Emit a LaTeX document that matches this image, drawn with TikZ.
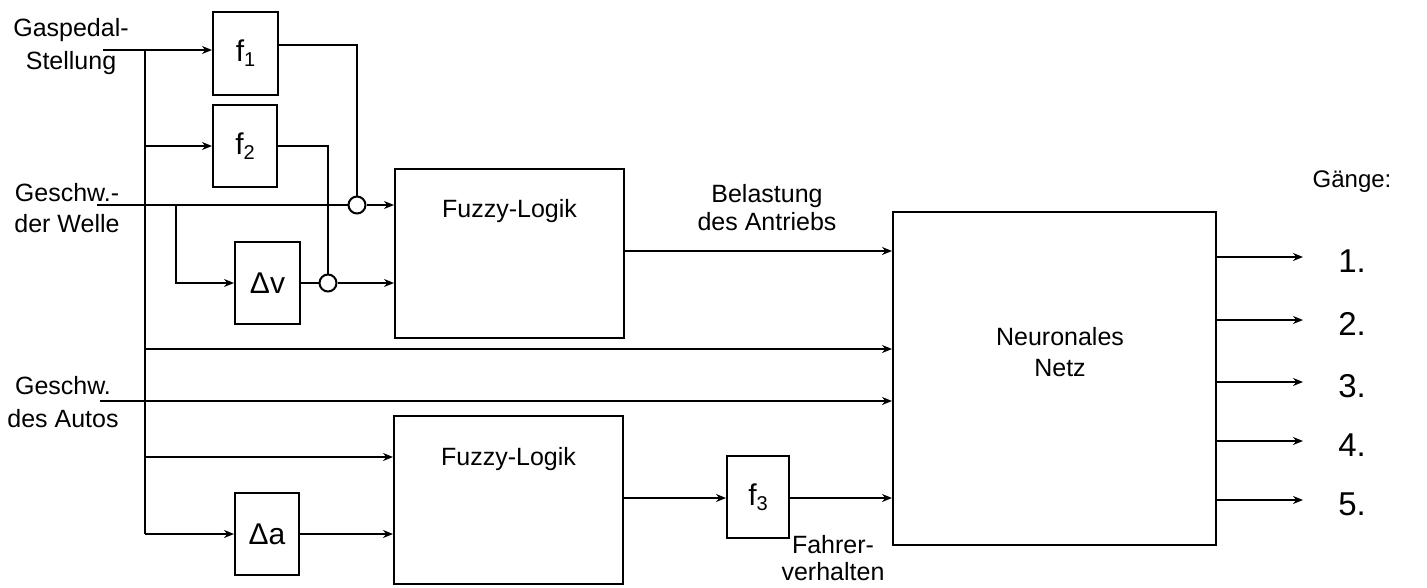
\documentclass[tikz,border=0pt]{standalone}
\usepackage{fontspec}
\setmainfont{Liberation Sans}
\usetikzlibrary{arrows.meta,calc}
\newcommand{\subidx}[1]{\raisebox{-5pt}{\fontsize{20}{20}\selectfont #1}}
\begin{document}
\begin{tikzpicture}[x=1pt,y=-1pt,
  line width=2pt,
  blk/.style={draw, inner sep=0pt, rectangle},
  lbl/.style={font=\fontsize{25}{31}\selectfont, align=center, inner sep=0pt},
  sym/.style={font=\fontsize{30}{30}\selectfont, inner sep=0pt},
  num/.style={font=\fontsize{33}{34}\selectfont, inner sep=0pt},
  arr/.style={-{Stealth[length=10pt,width=8pt]}},
  cross/.style={draw, circle, inner sep=0pt, minimum size=17pt}]
\useasboundingbox (0,0) rectangle (1427,587);
% boxes
\node[blk, minimum width=65pt, minimum height=83pt] (f1) at (245.5,53.5) {};
\node[sym] at (f1) {f\subidx{1}};
\node[blk, minimum width=64pt, minimum height=82pt] (f2) at (245,146) {};
\node[sym] at (f2) {f\subidx{2}};
\node[blk, minimum width=65pt, minimum height=82pt] (dv) at (267.5,283) {};
\node[sym] at (dv) {Δv};
\node[blk, minimum width=64pt, minimum height=82pt] (da) at (267,534) {};
\node[sym] at (da) {Δa};
\node[blk, minimum width=229pt, minimum height=169pt] (fz1) at (509.5,253.5) {};
\node[lbl] (fz1t) at ($(fz1.north)+(0,43)$) {Fuzzy-Logik};
\node[blk, minimum width=229pt, minimum height=168pt] (fz2) at (508.5,500) {};
\node[lbl] (fz2t) at ($(fz2.north)+(0,44)$) {Fuzzy-Logik};
\node[blk, minimum width=62pt, minimum height=82pt] (f3) at (758,497) {};
\node[sym] at (f3) {f\subidx{3}};
\node[blk, minimum width=323pt, minimum height=333pt] (nn) at (1054.5,378.5) {};
\node[lbl] (nnt) at (1060,352) {Neuronales\\Netz};
% crossing circles
\node[cross] (c1) at (357,205) {};
\node[cross] (c2) at (328,283) {};
% input labels
\node[lbl, font=\fontsize{25}{33}\selectfont] (gp) at (71,47) {Gaspedal-\\Stellung};
\node[lbl] (gw) at (67,208) {Geschw.-\\der Welle};
\node[lbl, font=\fontsize{25}{33}\selectfont] (ga) at (63,402) {Geschw.\\des Autos};
\node[lbl, font=\fontsize{25}{28}\selectfont] (bel) at (767,208) {Belastung\\des Antriebs};
\node[lbl, font=\fontsize{25}{27}\selectfont] (fv) at (833,558) {Fahrer-\\verhalten};
\node[font=\fontsize{24}{28}\selectfont, inner sep=0pt] (gg) at (1352,182) {Gänge:};
% coordinates
\coordinate (gin) at (103,50);
\coordinate (t1) at (145,50);
\coordinate (t2) at (145,534);
\coordinate (win) at (97,205);
\coordinate (ain) at (100,401);
\coordinate (br) at (176,205);
% connectors
\draw[arr] (gin) -- (gin -| f1.west);
\draw (t1) -- (t2);
\draw[arr] (t1 |- f2) -- (f2.west);
\draw (f1.east |- 0,45) -| (c1.north);
\draw (f2.east) -| (c2.north);
\draw (win) -- (c1.west);
\draw[arr] (c1.east) -- (c1 -| fz1.west);
\draw[arr] (br) |- (dv.west);
\draw (dv.east) -- (c2.west);
\draw[arr] (c2.east) -- (c2 -| fz1.west);
\draw[arr] (fz1.east |- 0,251) -- (nn.west |- 0,251);
\draw[arr] (t1 |- 0,349) -- (nn.west |- 0,349);
\draw[arr] (ain) -- (ain -| nn.west);
\draw[arr] (t1 |- 0,457) -- (fz2.west |- 0,457);
\draw[arr] (t2) -- (t2 -| da.west);
\draw[arr] (da.east) -- (da -| fz2.west);
\draw[arr] (fz2.east |- 0,498) -- (f3.west |- 0,498);
\draw[arr] (f3.east |- 0,498) -- (nn.west |- 0,498);
% outputs
\foreach \yy/\n [count=\i] in {257/1,320/2,382/3,441/4,500/5}{
  \coordinate (o\i) at (1303,\yy);
  \draw[arr] (nn.east |- o\i) -- (o\i);
  \node[num] (g\i) at (1352,\yy+4) {\n.};
}
\end{tikzpicture}
\end{document}
